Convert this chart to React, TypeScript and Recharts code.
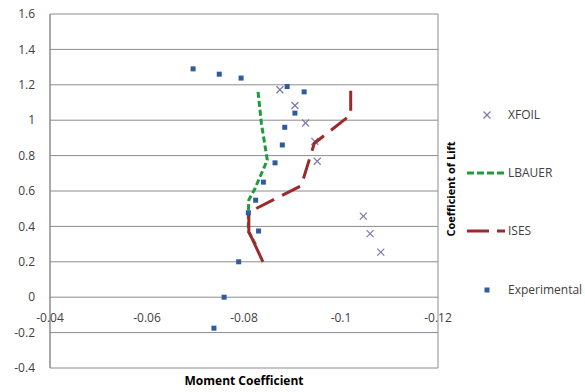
import React from 'react';
import { ComposedChart, Scatter, XAxis, YAxis, CartesianGrid, ReferenceDot } from 'recharts';

const xTicks = [-0.12, -0.1, -0.08, -0.06, -0.04];
const yTicks = [-0.4, -0.2, 0, 0.2, 0.4, 0.6, 0.8, 1, 1.2, 1.4, 1.6];
const seriesNames = ['XFOIL', 'LBAUER', 'ISES', 'Experimental'];
const xTitle = 'Moment Coefficient';
const yTitle = 'Coefficient of Lift';

const xfoilX = [-0.0874, -0.0905, -0.0927, -0.0946, -0.0951, -0.1046, -0.106, -0.1082];
const xfoilY = [1.172, 1.083, 0.984, 0.88, 0.768, 0.458, 0.359, 0.255];

const lbauerX = [-0.0829, -0.0836, -0.0848, -0.0822, -0.081, -0.0809, -0.0809, -0.0826];
const lbauerY = [1.16, 0.98, 0.775, 0.61, 0.55, 0.48, 0.37, 0.29];

const isesX = [-0.0839, -0.081, -0.081, -0.0918, -0.0945, -0.102, -0.102];
const isesY = [0.2, 0.37, 0.48, 0.63, 0.87, 1.03, 1.2];

const expX = [-0.0695, -0.0749, -0.0794, -0.0889, -0.0924, -0.0905, -0.0884, -0.0879, -0.0864, -0.084, -0.0824, -0.0809, -0.083, -0.0789, -0.0759, -0.0738];
const expY = [1.29, 1.26, 1.238, 1.19, 1.16, 1.04, 0.96, 0.86, 0.759, 0.65, 0.548, 0.477, 0.374, 0.2, 0.0, -0.175];

const toPoints = (xs: number[], ys: number[]) => xs.map((x, i) => ({ x, y: ys[i] }));

const FONT = '"Open Sans", sans-serif';
const TICK_COLOR = '#404040';
const GRID = '#8c8c8c';
const XFOIL_C = '#7c7aac';
const LBAUER_C = '#1f9b3a';
const ISES_C = '#9c2a2a';
const EXP_C = '#2f5c9c';

const Cross = (props: any) => {
  const { cx, cy } = props;
  if (cx == null || cy == null) return <g />;
  const s = 3.5;
  return (
    <g stroke={XFOIL_C} strokeWidth={1.2}>
      <line x1={cx - s} y1={cy - s} x2={cx + s} y2={cy + s} />
      <line x1={cx - s} y1={cy + s} x2={cx + s} y2={cy - s} />
    </g>
  );
};

const Square = (props: any) => {
  const { cx, cy } = props;
  if (cx == null || cy == null) return <g />;
  return <rect x={cx - 2.5} y={cy - 2.5} width={5} height={5} fill={EXP_C} />;
};

const Empty = () => <g />;

export default function App() {
  return (
    <div style={{ position: 'absolute', left: 0, top: 0, width: 585, height: 392, background: '#fff' }}>
      <ComposedChart
        width={585}
        height={392}
        margin={{ top: 14, right: 147, bottom: 24, left: 10 }}
      >
        <CartesianGrid stroke={GRID} strokeWidth={1} vertical={true} horizontal={true} />
        <XAxis
          type="number"
          dataKey="x"
          domain={[-0.12, -0.04]}
          ticks={xTicks}
          reversed
          height={0}
          tick={false}
          tickLine={false}
          axisLine={{ stroke: GRID }}
          allowDataOverflow
        />
        <YAxis
          type="number"
          dataKey="y"
          domain={[-0.4, 1.6]}
          ticks={yTicks}
          width={40}
          tickLine={false}
          tickSize={0}
          tickMargin={15}
          axisLine={{ stroke: GRID }}
          tick={{ fill: TICK_COLOR, fontSize: 12, fontFamily: FONT }}
          interval={0}
          allowDataOverflow
        />
        {xTicks.map((t) => (
          <ReferenceDot
            key={t}
            x={t}
            y={0}
            r={0}
            fill="none"
            stroke="none"
            ifOverflow="visible"
            label={{ value: String(t), position: 'bottom', offset: 16, fill: TICK_COLOR, fontSize: 12, fontFamily: FONT }}
          />
        ))}
        <Scatter name={seriesNames[0]} data={toPoints(xfoilX, xfoilY)} shape={Cross} isAnimationActive={false} />
        <Scatter
          name={seriesNames[1]}
          data={toPoints(lbauerX, lbauerY)}
          shape={Empty}
          line={{ stroke: LBAUER_C, strokeWidth: 3, strokeDasharray: '6 3' }}
          isAnimationActive={false}
        />
        <Scatter
          name={seriesNames[2]}
          data={toPoints(isesX, isesY)}
          shape={Empty}
          line={{ stroke: ISES_C, strokeWidth: 3, strokeDasharray: '53 8 20 9 20 9 20 9 20 9 20 9 20 9 20 9 20 9' }}
          isAnimationActive={false}
        />
        <Scatter name={seriesNames[3]} data={toPoints(expX, expY)} shape={Square} isAnimationActive={false} />
      </ComposedChart>
      <svg width={585} height={392} style={{ position: 'absolute', left: 0, top: 0, pointerEvents: 'none' }}>
        <text x={244} y={385} textAnchor="middle" fontFamily={FONT} fontSize={12} fontWeight="bold" fill="#000">
          {xTitle}
        </text>
        <text transform="translate(455,189) rotate(-90)" textAnchor="middle" fontFamily={FONT} fontSize={11} fontWeight="bold" fill="#000">
          {yTitle}
        </text>
        {/* legend */}
        <g stroke={XFOIL_C} strokeWidth={1.2}>
          <line x1={483.5} y1={111.5} x2={490.5} y2={118.5} />
          <line x1={483.5} y1={118.5} x2={490.5} y2={111.5} />
        </g>
        <text x={508} y={119} fontFamily={FONT} fontSize={12} fill={TICK_COLOR}>{seriesNames[0]}</text>
        <line x1={467} y1={173} x2={507} y2={173} stroke={LBAUER_C} strokeWidth={3} strokeDasharray="7 3" />
        <text x={508} y={177} fontFamily={FONT} fontSize={12} fill={TICK_COLOR}>{seriesNames[1]}</text>
        <line x1={467} y1={231} x2={505} y2={231} stroke={ISES_C} strokeWidth={3} strokeDasharray="22 8" />
        <text x={508} y={235} fontFamily={FONT} fontSize={12} fill={TICK_COLOR}>{seriesNames[2]}</text>
        <rect x={484.5} y={287.5} width={5} height={5} fill={EXP_C} />
        <text x={508} y={294} fontFamily={FONT} fontSize={12} fill={TICK_COLOR}>{seriesNames[3]}</text>
      </svg>
    </div>
  );
}
